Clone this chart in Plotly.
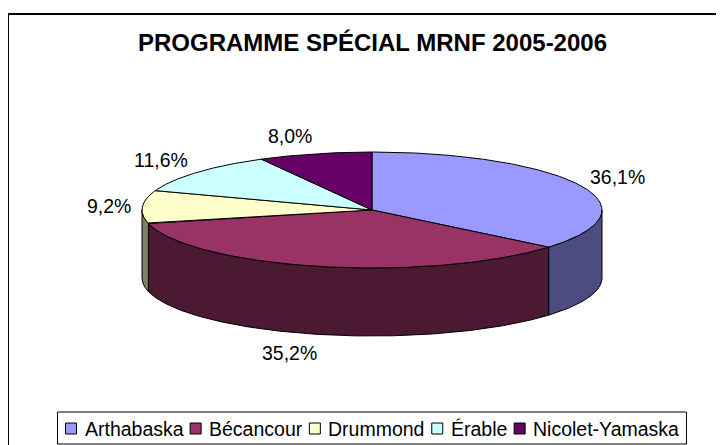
import numpy as np
import plotly.graph_objects as go

# ---------------- data ----------------
title_text = "PROGRAMME SPÉCIAL MRNF 2005-2006"
categories = ["Arthabaska", "Bécancour", "Drummond", "Érable", "Nicolet-Yamaska"]
values = [36.1, 35.2, 9.2, 11.6, 8.0]

# ---------------- style ----------------
top_colors = ["#9999FF", "#993366", "#FFFFCC", "#CCFFFF", "#660066"]
side_colors = ["#4C4C80", "#4C1933", "#808066", "#668080", "#330033"]
FONT = "Arial, Liberation Sans, sans-serif"
W, H = 724, 445
OFF = 8                      # page body margin, so axis units == page pixels
CX, CY, RA, RB, DEPTH = 372, 210, 230, 58, 68   # 3-D pie geometry (pixels)
LABEL_SIZE = 19.5
LEGEND_SIZE = 19.5
TITLE_SIZE = 24

# Arial advance widths (1/1000 em) for text measuring
AW = {'A': 667, 'B': 667, 'D': 722, 'N': 722, 'Y': 667, 'É': 667, 'a': 556, 'b': 556,
      'c': 500, 'd': 556, 'e': 556, 'é': 556, 'h': 556, 'i': 222, 'k': 500, 'l': 222,
      'm': 833, 'n': 556, 'o': 556, 'r': 333, 's': 500, 't': 278, 'u': 556, '-': 333,
      ',': 278, '%': 889, ' ': 278}
for d in "0123456789":
    AW[d] = 556


def text_w(s, size):
    return sum(AW.get(c, 556) for c in s) * size / 1000.0


def rim(theta_deg):
    t = np.radians(theta_deg)
    return CX + RA * np.sin(t), CY - RB * np.cos(t)


total = sum(values)
fracs = [v / total for v in values]
starts = np.concatenate([[0.0], np.cumsum(fracs)[:-1]]) * 360.0
ends = np.cumsum(fracs) * 360.0

fig = go.Figure()

# side walls (front half only: 90..270 deg clockwise from 12 o'clock)
for i in range(len(values)):
    s, e = max(starts[i], 90.0), min(ends[i], 270.0)
    if e > s:
        ang = np.linspace(s, e, 200)
        x, y = rim(ang)
        px = np.concatenate([x, x[::-1], x[:1]])
        py = np.concatenate([y, y[::-1] + DEPTH, y[:1]])
        fig.add_trace(go.Scatter(x=px, y=py, mode="lines", fill="toself",
                                 fillcolor=side_colors[i],
                                 line=dict(color="black", width=1),
                                 hoverinfo="skip", showlegend=False))

# top faces
for i in range(len(values)):
    ang = np.linspace(starts[i], ends[i], 300)
    x, y = rim(ang)
    px = np.concatenate([[CX], x, [CX]])
    py = np.concatenate([[CY], y, [CY]])
    fig.add_trace(go.Scatter(x=px, y=py, mode="lines", fill="toself",
                             fillcolor=top_colors[i],
                             line=dict(color="black", width=1),
                             hoverinfo="skip", showlegend=False))

annotations = []
# data labels
GAP = 11
for i in range(len(values)):
    mid = np.radians((starts[i] + ends[i]) / 2.0)
    pct = f"{fracs[i] * 100:.1f}".replace(".", ",") + "%"
    w = text_w(pct, LABEL_SIZE)
    sn, cs = np.sin(mid), np.cos(mid)
    lx = CX + sn * (RA + GAP) + np.sign(sn) * w / 2.0
    ly = CY - cs * (RB + GAP + LABEL_SIZE * 0.4)
    if cs < 0:
        ly += DEPTH
    annotations.append(dict(x=lx, y=ly, xref="x", yref="y", text=pct, showarrow=False,
                            xanchor="center", yanchor="middle",
                            font=dict(family=FONT, size=LABEL_SIZE, color="black")))

# title
annotations.append(dict(x=CX, y=42, xref="x", yref="y", text=f"<b>{title_text}</b>",
                        showarrow=False, xanchor="center", yanchor="middle",
                        font=dict(family=FONT, size=TITLE_SIZE, color="black")))

shapes = []
# outer chart border (right/bottom edges fall outside the window)
shapes.append(dict(type="rect", xref="x", yref="y", x0=8, y0=14, x1=740, y1=470,
                   line=dict(color="black", width=2), fillcolor="rgba(0,0,0,0)", layer="below"))

# legend (Excel style, bottom)
SQ, SQ_GAP, ITEM_GAP, PAD = 11, 6, 9, 8
item_w = [SQ + SQ_GAP + text_w(c, LEGEND_SIZE) for c in categories]
leg_w = sum(item_w) + ITEM_GAP * (len(categories) - 1) + 2 * PAD
lx0 = CX - leg_w / 2.0
LY0, LY1 = 412, 444
ly_mid = 428.5
shapes.append(dict(type="rect", xref="x", yref="y", x0=lx0, y0=LY0, x1=lx0 + leg_w, y1=LY1,
                   line=dict(color="black", width=1), fillcolor="white"))
xpos = lx0 + PAD
for i, c in enumerate(categories):
    shapes.append(dict(type="rect", xref="x", yref="y", x0=xpos, y0=ly_mid - SQ / 2.0,
                       x1=xpos + SQ, y1=ly_mid + SQ / 2.0,
                       line=dict(color="black", width=1), fillcolor=top_colors[i]))
    annotations.append(dict(x=xpos + SQ + SQ_GAP, y=ly_mid, xref="x", yref="y", text=c,
                            showarrow=False, xanchor="left", yanchor="middle",
                            font=dict(family=FONT, size=LEGEND_SIZE, color="black")))
    xpos += item_w[i] + ITEM_GAP

fig.update_layout(
    width=W, height=H, autosize=False,
    margin=dict(l=0, r=0, t=0, b=0, pad=0),
    paper_bgcolor="white", plot_bgcolor="white",
    xaxis=dict(range=[OFF, OFF + W], visible=False, fixedrange=True),
    yaxis=dict(range=[OFF + H, OFF], visible=False, fixedrange=True),
    showlegend=False,
    annotations=annotations,
    shapes=shapes,
)

fig.write_html("out.html")
